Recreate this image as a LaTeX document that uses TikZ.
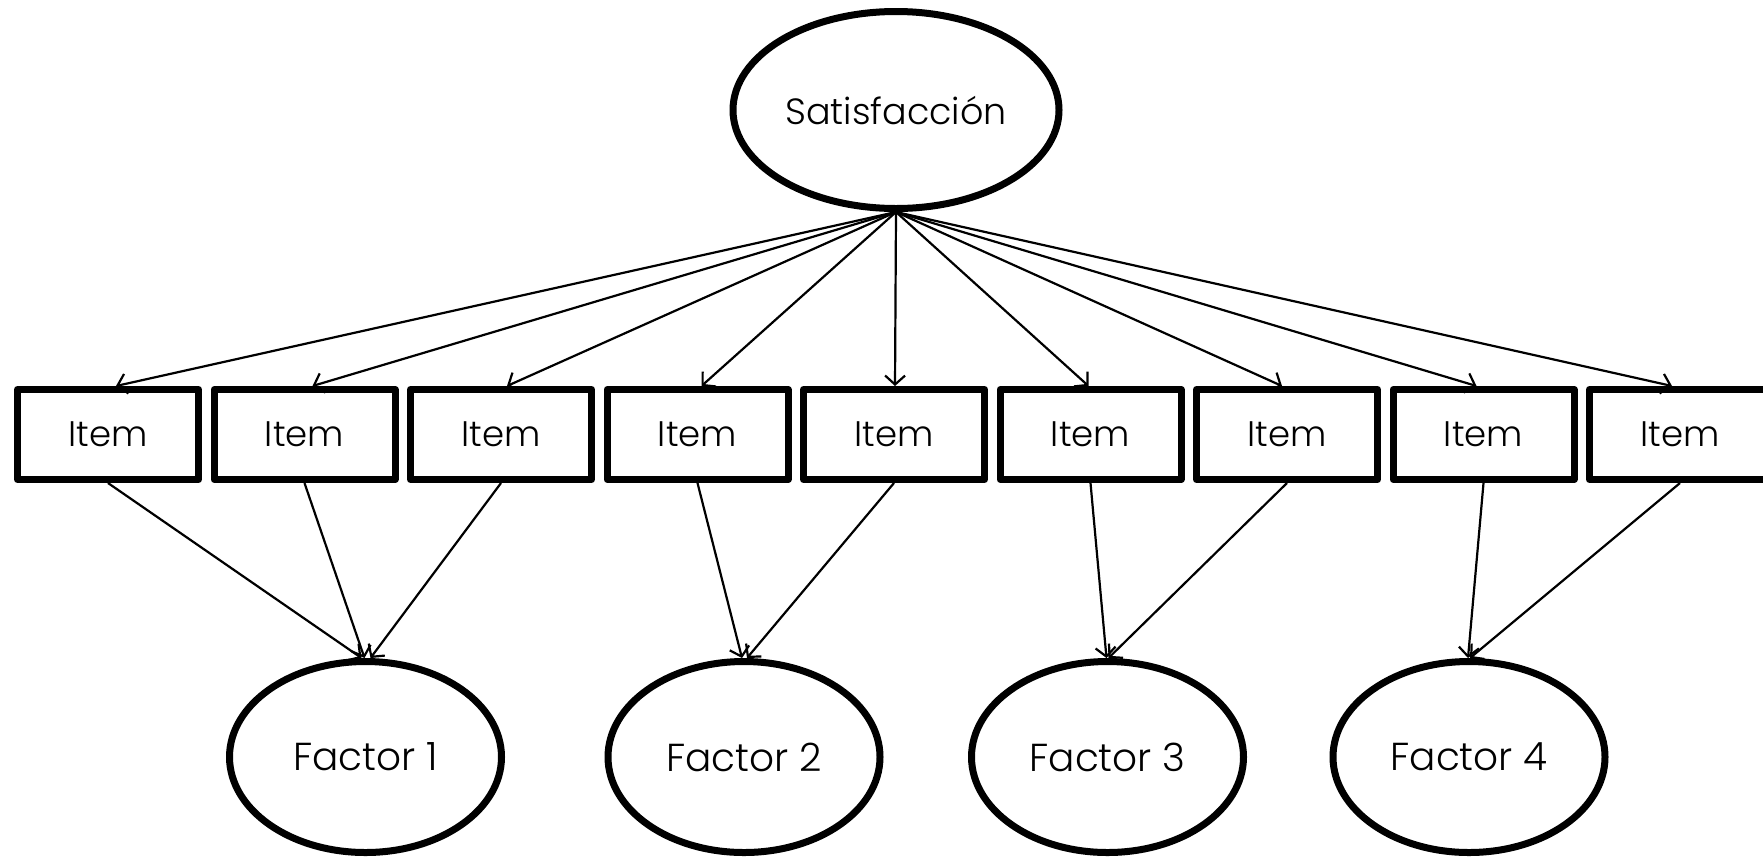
\documentclass[tikz,border=0pt]{standalone}
\usepackage{fontspec}
\setmainfont{Poppins}[UprightFont={* Light}]
\usetikzlibrary{shapes.geometric,arrows.meta}
\begin{document}
\begin{tikzpicture}[x=1pt,y=-1pt,
  latent/.style={draw,ellipse,line width=7pt,inner sep=0pt},
  sat/.style={latent,minimum width=326pt,minimum height=197pt,
    font=\fontsize{36.5}{42}\selectfont},
  fac/.style={latent,minimum width=272pt,minimum height=191pt,
    font=\fontsize{39}{45}\selectfont},
  itembox/.style={draw,rectangle,line width=7pt,line join=round,inner sep=0pt,
    minimum width=181pt,minimum height=90pt,
    font=\fontsize{35.5}{42}\selectfont},
  link/.style={line width=2.2pt,-{Straight Barb[length=9pt,width=20pt]}}
]
\useasboundingbox (0,0) rectangle (1763,860);
\clip (0,0) rectangle (1763,860);

% second-order latent variable
\node[sat] (s) at (896,110) {Satisfacción};

% observed items
\foreach \k/\x in {1/108,2/304.5,3/501,4/697.5,5/894,6/1090.5,7/1287,8/1483.5,9/1680}
  \node[itembox] (i\k) at (\x,434.5) {\raisebox{-3pt}{Item}};

% first-order factors
\node[fac] (f1) at (365.5,757) {Factor 1};
\node[fac] (f2) at (744,757) {Factor 2};
\node[fac] (f3) at (1107.5,757) {Factor 3};
\node[fac] (f4) at (1469,757) {Factor 4};

% loadings of the items on Satisfacción
\foreach \k/\d in {1/8,2/8,3/6,4/4,5/1,6/-2,7/-5,8/-7,9/-8}
  \draw[link] (s.south) -- ([xshift=\d pt]i\k.north);

% items grouped into factors
\draw[link] (i1.south) -- ([xshift=-4pt]f1.north);
\draw[link] (i2.south) -- ([xshift=-1pt]f1.north);
\draw[link] (i3.south) -- ([xshift=5pt]f1.north);
\draw[link] (i4.south) -- ([xshift=-2pt]f2.north);
\draw[link] (i5.south) -- ([xshift=3pt]f2.north);
\draw[link] (i6.south) -- ([xshift=-1pt]f3.north);
\draw[link] (i7.south) -- ([xshift=1pt]f3.north);
\draw[link] (i8.south) -- ([xshift=-1pt]f4.north);
\draw[link] (i9.south) -- ([xshift=1pt]f4.north);
\end{tikzpicture}
\end{document}
